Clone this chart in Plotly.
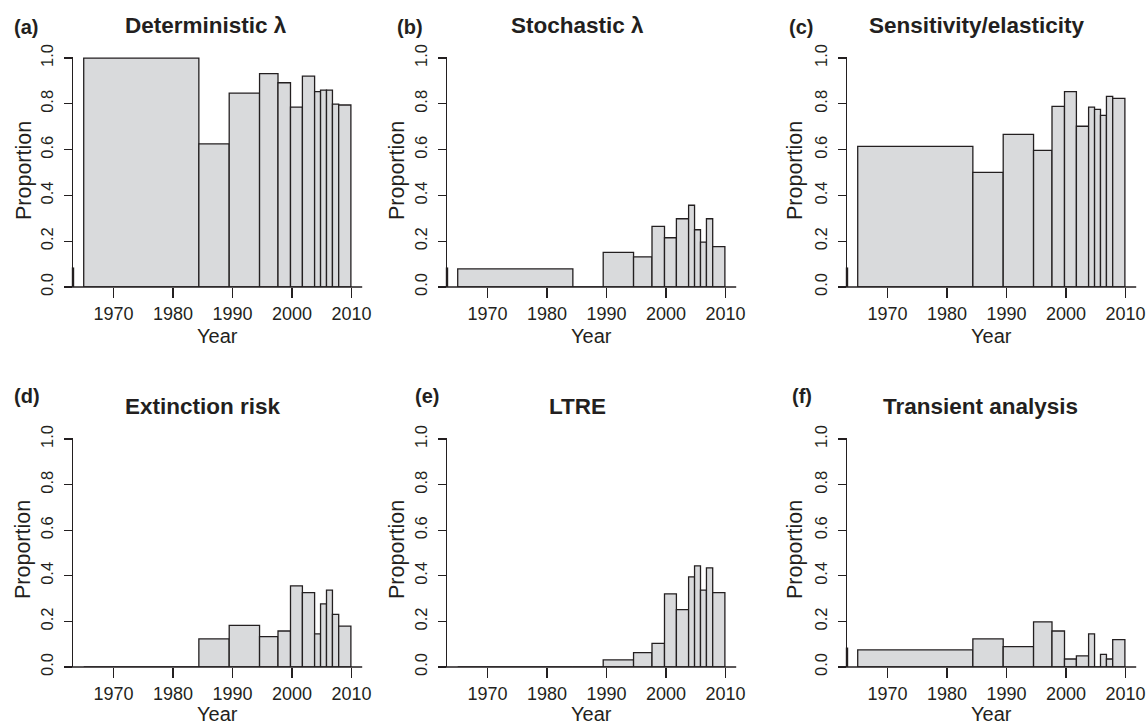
import plotly.graph_objects as go

# ---- data ----
bin_edges = [1965, 1984.35, 1989.45, 1994.55, 1997.65, 1999.75, 2001.75,
             2003.8, 2004.8, 2005.8, 2006.8, 2007.85, 2009.9]
panel_letters = ["(a)", "(b)", "(c)", "(d)", "(e)", "(f)"]
panel_titles = ["Deterministic λ", "Stochastic λ", "Sensitivity/elasticity",
                "Extinction risk", "LTRE", "Transient analysis"]
deterministic = [1.0, 0.625, 0.847, 0.932, 0.892, 0.786, 0.921, 0.853, 0.860, 0.860, 0.799, 0.795]
stochastic = [0.079, 0.0, 0.151, 0.132, 0.265, 0.215, 0.298, 0.357, 0.250, 0.196, 0.298, 0.176]
sensitivity = [0.614, 0.501, 0.667, 0.597, 0.789, 0.853, 0.702, 0.786, 0.776, 0.750, 0.833, 0.824]
extinction = [0.0, 0.123, 0.183, 0.133, 0.158, 0.356, 0.326, 0.145, 0.277, 0.337, 0.231, 0.179]
ltre = [0.0, 0.0, 0.031, 0.063, 0.104, 0.321, 0.252, 0.395, 0.444, 0.337, 0.435, 0.326]
transient = [0.075, 0.123, 0.089, 0.198, 0.158, 0.035, 0.049, 0.145, 0.0, 0.055, 0.035, 0.120]
series = [deterministic, stochastic, sensitivity, extinction, ltre, transient]
x_ticks = [1970, 1980, 1990, 2000, 2010]
y_ticks = [0.0, 0.2, 0.4, 0.6, 0.8, 1.0]
y_ticktext = ["0.0", "0.2", "0.4", "0.6", "0.8", "1.0"]
axis_mark_panels = [0, 1, 2, 5]   # panels showing a dark stub at the axis foot

# ---- layout geometry ----
W, H = 1147, 723
FONT = "Liberation Sans, Arial, Helvetica, sans-serif"
INK = "#231f20"
FILL = "#d9dadc"
XRANGE = [1963.2, 2011.8]
YRANGE = [0, 1.005]
col_px = [73, 447, 847]           # left edge (y-axis) in px
plot_w_px = 289.2
row_px = [(287, 56.9), (667, 437.9)]  # (bottom, top) in px

centers = [(bin_edges[i] + bin_edges[i + 1]) / 2 for i in range(len(bin_edges) - 1)]
widths = [bin_edges[i + 1] - bin_edges[i] for i in range(len(bin_edges) - 1)]

title_pos = [(206, 26), (577, 26), (977, 26), (203, 406), (577, 406), (980, 406)]
letter_pos = [(12, 27), (395, 27), (787, 27), (12, 396), (413, 396), (790, 396)]
ylab_pos = [(24, 171), (397, 171), (795, 171), (23, 550), (397, 550), (795, 550)]
xlab_y = [336, 714]

fig = go.Figure()
annotations = []
shapes = []
layout = {}

def px(xp):
    return xp / W

def py(yp):
    return 1 - yp / H

for i in range(6):
    r, c = divmod(i, 3)
    idx = "" if i == 0 else str(i + 1)
    xa, ya = "x" + idx, "y" + idx
    x0 = px(col_px[c])
    x1 = px(col_px[c] + plot_w_px)
    yb, yt = row_px[r]
    fig.add_trace(go.Bar(
        x=centers, y=series[i], width=widths, base=0,
        marker=dict(color=FILL, line=dict(color=INK, width=1.3)),
        xaxis=xa, yaxis=ya, showlegend=False, hoverinfo="x+y"))
    layout["xaxis" + idx] = dict(
        domain=[x0, x1], range=XRANGE, anchor=ya, showgrid=False, zeroline=False,
        automargin=False,
        showline=False, ticks="outside", ticklen=10, tickwidth=1.2, tickcolor=INK,
        tickvals=x_ticks, tickfont=dict(family=FONT, size=18, color=INK))
    layout["yaxis" + idx] = dict(
        domain=[py(yb), py(yt)], range=YRANGE, anchor=xa, showgrid=False, zeroline=False,
        automargin=False,
        showline=True, linecolor=INK, linewidth=1.2, ticks="outside", ticklen=8,
        tickwidth=1.2, tickcolor=INK, tickvals=y_ticks, ticktext=y_ticktext,
        tickangle=-90, ticklabelstandoff=4,
        tickfont=dict(family=FONT, size=16.5, color=INK))
    # baseline at y = 0 (extends slightly left of the y axis)
    bx0 = col_px[c] + (1961.7 - XRANGE[0]) / (XRANGE[1] - XRANGE[0]) * plot_w_px
    shapes.append(dict(type="line", xref="paper", yref="paper",
                       x0=px(bx0), x1=x1, y0=py(yb), y1=py(yb),
                       line=dict(color=INK, width=1.3)))
    if i in axis_mark_panels:
        shapes.append(dict(type="line", xref="paper", yref="paper",
                           x0=x0, x1=x0, y0=py(yb), y1=py(yb - 0.085 * (yb - yt)),
                           line=dict(color=INK, width=2.4)))
    tx, ty = title_pos[i]
    annotations.append(dict(text="<b>" + panel_titles[i] + "</b>", x=px(tx), y=py(ty),
                            xref="paper", yref="paper", showarrow=False,
                            xanchor="center", yanchor="middle",
                            font=dict(family=FONT, size=22.5, color=INK)))
    lx, ly = letter_pos[i]
    annotations.append(dict(text="<b>" + panel_letters[i] + "</b>", x=px(lx), y=py(ly),
                            xref="paper", yref="paper", showarrow=False,
                            xanchor="left", yanchor="middle",
                            font=dict(family=FONT, size=20, color=INK)))
    yx, yy = ylab_pos[i]
    annotations.append(dict(text="Proportion", x=px(yx), y=py(yy),
                            xref="paper", yref="paper", showarrow=False, textangle=-90,
                            xanchor="center", yanchor="middle",
                            font=dict(family=FONT, size=21.5, color=INK)))
    annotations.append(dict(text="Year", x=(x0 + x1) / 2, y=py(xlab_y[r]),
                            xref="paper", yref="paper", showarrow=False,
                            xanchor="center", yanchor="middle",
                            font=dict(family=FONT, size=20, color=INK)))

fig.update_layout(
    width=W, height=H, margin=dict(l=0, r=0, t=0, b=0, autoexpand=False),
    paper_bgcolor="white", plot_bgcolor="white", hovermode=False,
    annotations=annotations, shapes=shapes, bargap=0, **layout)

fig.write_html("out.html",
               config={"displayModeBar": False, "staticPlot": True},
               post_script="document.body.style.margin='0px';"
                           "document.body.style.overflow='hidden';")
